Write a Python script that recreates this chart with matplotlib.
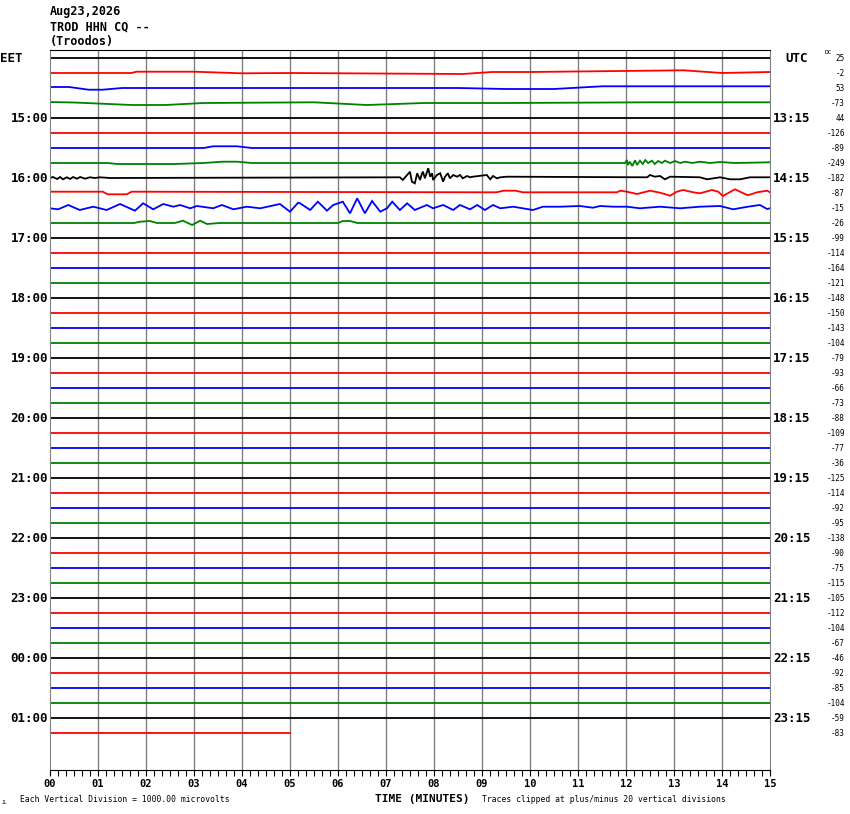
import numpy as np
import matplotlib.pyplot as plt
from matplotlib.ticker import MultipleLocator
import matplotlib.transforms as mtransforms

# helicorder: 46 lines of 15 minutes, 4 colours cycling
trace_colors = ['#000000', '#ff0000', '#0000ff', '#008000']
n_traces = 46
last_trace_end = 5.0
left_labels = ['EET', '15:00', '16:00', '17:00', '18:00', '19:00', '20:00',
               '21:00', '22:00', '23:00', '00:00', '01:00']
right_labels = ['UTC', '13:15', '14:15', '15:15', '16:15', '17:15', '18:15',
                '19:15', '20:15', '21:15', '22:15', '23:15']
dc_values = [25, -2, 53, -73, 44, -126, -89, -249, -182, -87, -15, -26,
             -99, -114, -164, -121, -148, -150, -143, -104, -79, -93, -66, -73,
             -88, -109, -77, -36, -125, -114, -92, -95, -138, -90, -75, -115,
             -105, -112, -104, -67, -46, -92, -85, -104, -59, -83]
tick_labels = ['%02d' % m for m in range(16)]

# trace offsets in pixels (up positive), times in minutes
red_1415_t = [0, 1.7, 1.8, 3.0, 4.0, 5.0, 8.6, 9.2, 10.0, 13.2, 14.0, 14.5, 15]
red_1415_y = [0, 0, 1.3, 1.3, -0.3, 0, -1, 1, 1, 2.7, 0, 0.5, 1]
blue_1430_t = [0, 0.4, 0.8, 1.1, 1.5, 8.5, 9.5, 10.5, 11.5, 13, 15]
blue_1430_y = [1, 1, -1.7, -1.7, 0, 0, -1, -1, 1.7, 1.7, 1.7]
green_1445_t = [0, 0.5, 1.7, 2.4, 3.2, 5.5, 6.6, 7.8, 9.5, 12.5, 15]
green_1445_y = [1, 0.5, -2, -2, 0, 0.7, -2, 0, 0, 0.7, 0.7]
blue_1530_t = [0, 3.2, 3.4, 3.9, 4.2, 15]
blue_1530_y = [0, 0, 1.7, 1.7, 0, 0]
green_1545_t = [0, 1.2, 1.4, 2.6, 3.2, 3.6, 3.9, 4.2, 11.98, 12.02, 12.04, 12.08,
                12.13, 12.19, 12.23, 12.29, 12.35, 12.40, 12.46, 12.54, 12.60,
                12.67, 12.75, 12.81, 12.92, 13.02, 13.13, 13.23, 13.38, 13.54,
                13.75, 13.96, 14.27, 15]
green_1545_y = [0, 0, -1, -1, 0, 1.3, 1.3, 0, 0, 3, -2, 1.3,
                -3, 2.7, -2, 2.3, -1, 3, 0, 2.3, -1,
                2, 0, 2.3, 0, 2, 0, 1.3, 0, 1.3,
                0, 1, 0, 0.7]
black_1600_t = [0, 0.06, 0.15, 0.21, 0.27, 0.35, 0.42, 0.48, 0.56, 0.63, 0.73,
                0.83, 0.94, 1.04, 1.25, 7.29, 7.35, 7.44, 7.50, 7.54, 7.60, 7.65,
                7.71, 7.75, 7.77, 7.81, 7.88, 7.92, 7.96, 7.98, 8.06, 8.13, 8.19,
                8.23, 8.29, 8.33, 8.40, 8.48, 8.54, 8.60, 8.69, 8.75, 8.81, 9.10,
                9.17, 9.23, 9.31, 9.38, 9.52, 12.44, 12.50, 12.60, 12.71, 12.81,
                12.92, 13.54, 13.69, 13.96, 14.17, 14.38, 14.58, 15]
black_1600_y = [0, 1, -1, 1, -1.3, 0.7, -1, 1, -0.7, 1, -0.7,
                0.7, 0, 0.7, 0, 0.7, -2, 3, 6.3, -3.7, -5.3, 4.7,
                -2, 4.7, 6.3, -0.3, 9.7, 1.3, 4.7, -2, 3, 4.7, -3.7,
                1.3, 4.7, -0.3, 3, 1.3, 3, -0.3, 2, 0.7, 1.3, 3,
                -1.3, 2, -0.3, 0.7, 1.3, 0.7, 3, 1.3, 2, -1.3,
                1.3, 0.7, -1.3, 0.7, -1.3, -1.3, 0.7, 0.7]
red_1615_t = [0, 1.1, 1.2, 1.6, 1.7, 9.3, 9.45, 9.7, 9.85, 11.81, 11.88, 12.02,
              12.23, 12.50, 12.71, 12.92, 13.06, 13.19, 13.40, 13.54, 13.79,
              13.92, 14.02, 14.27, 14.42, 14.54, 14.73, 14.94, 15]
red_1615_y = [1.3, 1.3, -1.3, -1.3, 1.3, 0.7, 2.3, 2.3, 0.7, 0.7, 2.3, 1.3,
              -1, 2.3, 0.3, -2.7, 1.3, 3, 0.7, -0.3, 3,
              1.3, -3, 3.7, 0.3, -2.3, 0.7, 2.3, 0.7]
blue_1630_t = [0, 0.17, 0.38, 0.62, 0.90, 1.18, 1.46, 1.77, 1.94, 2.15, 2.36,
               2.57, 2.71, 2.92, 3.06, 3.40, 3.58, 3.82, 4.10, 4.38, 4.79, 5.00,
               5.17, 5.21, 5.42, 5.58, 5.77, 5.90, 6.10, 6.25, 6.40, 6.56, 6.71,
               6.88, 7.02, 7.13, 7.29, 7.44, 7.60, 7.85, 7.98, 8.19, 8.40, 8.54,
               8.75, 8.90, 9.06, 9.23, 9.38, 9.65, 10.06, 10.27, 10.63, 11.04,
               11.31, 11.46, 11.73, 12.02, 12.29, 12.71, 13.13, 13.54, 13.96,
               14.23, 14.54, 14.79, 14.94, 15]
blue_1630_y = [-0.3, -1.3, 3, -2, 1.3, -2, 4, -2.7, 4.7, -1.3, 4,
               1.3, 3, -0.3, 2, -0.3, 3, -1.3, 1.3, -0.3, 4, -3.7,
               5.3, 4.7, -2, 6.3, -2.7, 3, 6.3, -5.3, 9.7, -5.3, 7,
               -3.7, -0.3, 6.3, -2, 4.7, -2, 3, -0.3, 3, -2, 3,
               -1.3, 3, -2, 3, -0.3, 1.3, -2, 1.3, 1.3, 2,
               0.3, 2, 1.3, 1.3, -0.3, 1.3, -0.3, 1.3, 2,
               -1.3, 1.3, 3, -1, -0.3]
green_1645_t = [0, 1.75, 1.88, 2.08, 2.23, 2.6, 2.77, 2.96, 3.13, 3.27, 3.54,
                6.0, 6.1, 6.25, 6.4, 15]
green_1645_y = [0, 0, 1.3, 2, 0, 0, 2.3, -2, 2.3, -1, 0,
                0, 2, 2, 0, 0]

waves = {1: (red_1415_t, red_1415_y), 2: (blue_1430_t, blue_1430_y),
         3: (green_1445_t, green_1445_y), 6: (blue_1530_t, blue_1530_y),
         7: (green_1545_t, green_1545_y), 8: (black_1600_t, black_1600_y),
         9: (red_1615_t, red_1615_y), 10: (blue_1630_t, blue_1630_y),
         11: (green_1645_t, green_1645_y)}

W, H = 850, 814
px_per_row = 15.0
fig = plt.figure(figsize=(W / 100, H / 100), dpi=100)
# plot box: x 50..770 px, y 50..770 px, first trace at y=58
ax = fig.add_axes([50 / W, 1 - 770 / H, 720 / W, 720 / H])
ax.set_xlim(0, 15)
ax.set_ylim((770 - 58) / px_per_row, (50 - 58) / px_per_row)

for m in range(1, 15):
    ax.axvline(m, color='#808080', lw=1.0, zorder=1)

for i in range(n_traces):
    end = last_trace_end if i == n_traces - 1 else 15
    t, off = waves.get(i, ([0, end], [0, 0]))
    t = np.array(t, dtype=float)
    off = np.array(off, dtype=float)
    keep = t <= end
    ax.plot(t[keep], i - off[keep] / px_per_row, color=trace_colors[i % 4],
            lw=1.3, zorder=2, solid_joinstyle='miter')

for s in ['left', 'right']:
    ax.spines[s].set_color('#808080')
for s in ['top', 'bottom']:
    ax.spines[s].set_color('black')
ax.set_yticks([])
ax.xaxis.set_major_locator(MultipleLocator(1))
ax.xaxis.set_minor_locator(MultipleLocator(1 / 6))
ax.tick_params(axis='x', which='both', direction='out', length=4.5, width=0.8,
               color='black', pad=2)
ax.set_xticks(range(16))
ax.set_xticklabels(tick_labels, family='DejaVu Sans Mono', fontweight='bold',
                   fontsize=7.5)

mono = 'DejaVu Sans Mono'
trans_l = mtransforms.blended_transform_factory(fig.transFigure, ax.transData)
for k, lab in enumerate(left_labels):
    if k == 0:
        ax.text(0 / W, 4 * k, lab, transform=trans_l, ha='left', va='center',
                family=mono, fontweight='bold', fontsize=9)
    else:
        ax.text(48 / W, 4 * k, lab, transform=trans_l, ha='right', va='center',
                family=mono, fontweight='bold', fontsize=9)
for k, lab in enumerate(right_labels):
    x0 = 785 if k == 0 else 773
    ax.text(x0 / W, 4 * k, lab, transform=trans_l, ha='left', va='center',
            family=mono, fontweight='bold', fontsize=9)
for i, v in enumerate(dc_values):
    ax.text(845 / W, i + 0.05, str(v), transform=trans_l, ha='right', va='center',
            family=mono, fontsize=5.5)
fig.text(825 / W, 1 - 53 / H, 'DC', ha='left', va='center', family=mono, fontsize=4.5)

def ftext(x, y, s, **kw):
    fig.text(x / W, 1 - y / H, s, va='center', family=mono, **kw)

ftext(50, 12, 'Aug23,2026', ha='left', fontweight='bold', fontsize=8.5)
ftext(50, 27, 'TROD HHN CQ --', ha='left', fontweight='bold', fontsize=8.5)
ftext(50, 41, '(Troodos)', ha='left', fontweight='bold', fontsize=8.5)
ftext(422, 799, 'TIME (MINUTES)', ha='center', fontweight='bold', fontsize=8)
ftext(20, 800, 'Each Vertical Division = 1000.00 microvolts', ha='left', fontsize=5.8)
ftext(482, 800, 'Traces clipped at plus/minus 20 vertical divisions', ha='left',
      fontsize=5.8)
ftext(2, 802, 'JL', ha='left', fontsize=3.5)

fig.savefig('out.png', dpi=100)
plt.close(fig)
